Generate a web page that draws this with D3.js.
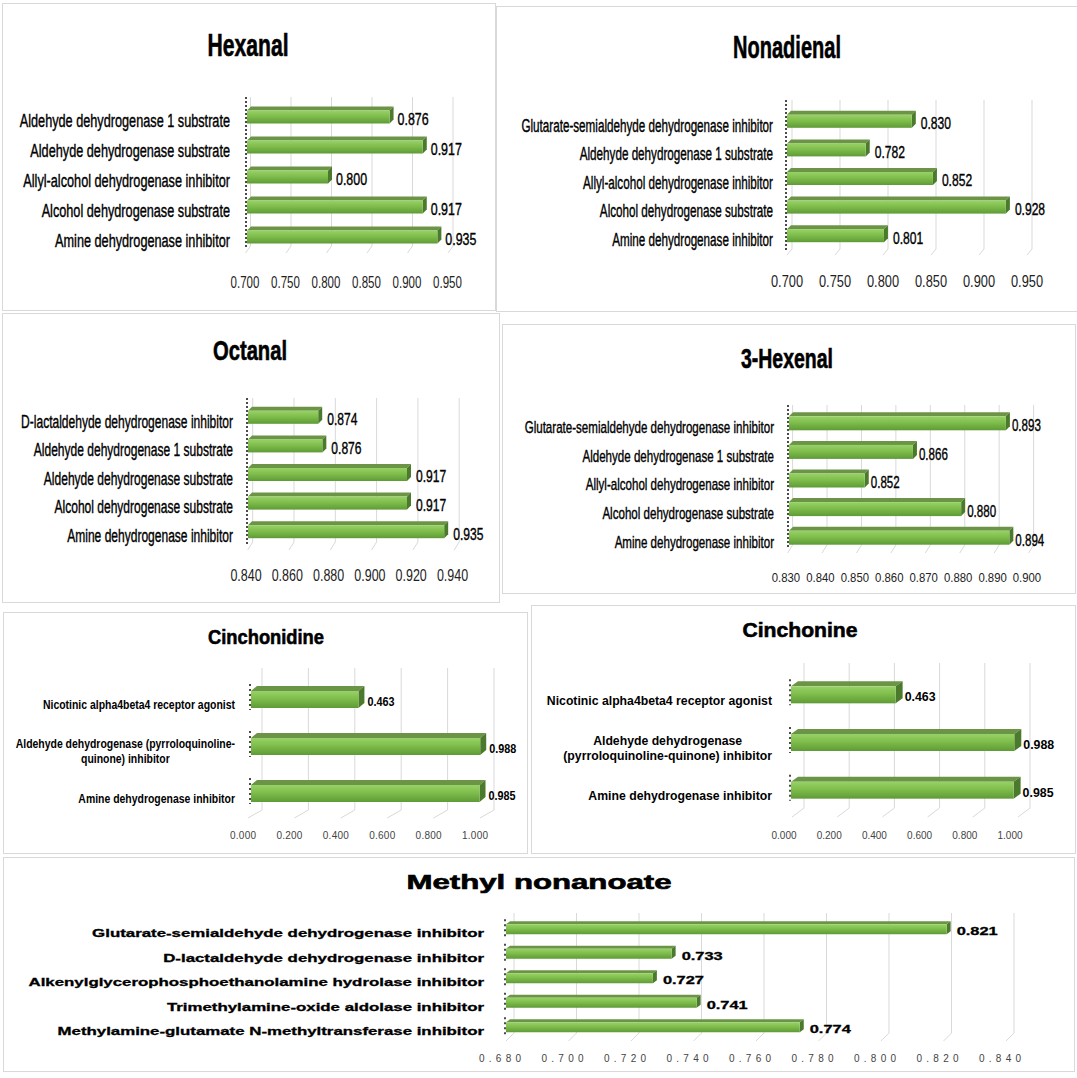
<!DOCTYPE html>
<html>
<head>
<meta charset="utf-8">
<script src="https://cdn.jsdelivr.net/npm/d3@7"></script>
<style>
  body { margin: 0; background: #fff; }
  svg { display: block; }
</style>
</head>
<body>
<svg id="chart"></svg>
<script>
/*global d3*/

// ---- data (top to bottom as shown) ----
var hexanalCats = ["Aldehyde dehydrogenase 1 substrate", "Aldehyde dehydrogenase substrate",
    "Allyl-alcohol dehydrogenase inhibitor", "Alcohol dehydrogenase substrate", "Amine dehydrogenase inhibitor"];
var hexanalVals = [0.876, 0.917, 0.800, 0.917, 0.935];
var hexanalTicks = [0.70, 0.75, 0.80, 0.85, 0.90, 0.95];

var nonadienalCats = ["Glutarate-semialdehyde dehydrogenase inhibitor", "Aldehyde dehydrogenase 1 substrate",
    "Allyl-alcohol dehydrogenase inhibitor", "Alcohol dehydrogenase substrate", "Amine dehydrogenase inhibitor"];
var nonadienalVals = [0.830, 0.782, 0.852, 0.928, 0.801];
var nonadienalTicks = [0.70, 0.75, 0.80, 0.85, 0.90, 0.95];

var octanalCats = ["D-lactaldehyde dehydrogenase inhibitor", "Aldehyde dehydrogenase 1 substrate",
    "Aldehyde dehydrogenase substrate", "Alcohol dehydrogenase substrate", "Amine dehydrogenase inhibitor"];
var octanalVals = [0.874, 0.876, 0.917, 0.917, 0.935];
var octanalTicks = [0.84, 0.86, 0.88, 0.90, 0.92, 0.94];

var hexenalCats = ["Glutarate-semialdehyde dehydrogenase inhibitor", "Aldehyde dehydrogenase 1 substrate",
    "Allyl-alcohol dehydrogenase inhibitor", "Alcohol dehydrogenase substrate", "Amine dehydrogenase inhibitor"];
var hexenalVals = [0.893, 0.866, 0.852, 0.880, 0.894];
var hexenalTicks = [0.83, 0.84, 0.85, 0.86, 0.87, 0.88, 0.89, 0.90];

var cinchonidineCats = ["Nicotinic alpha4beta4 receptor agonist",
    "Aldehyde dehydrogenase (pyrroloquinoline-\nquinone) inhibitor", "Amine dehydrogenase inhibitor"];
var cinchonidineVals = [0.463, 0.988, 0.985];
var cinchonidineTicks = [0, 0.2, 0.4, 0.6, 0.8, 1.0];

var cinchonineCats = ["Nicotinic alpha4beta4 receptor agonist",
    "Aldehyde dehydrogenase\n(pyrroloquinoline-quinone) inhibitor", "Amine dehydrogenase inhibitor"];
var cinchonineVals = [0.463, 0.988, 0.985];
var cinchonineTicks = [0, 0.2, 0.4, 0.6, 0.8, 1.0];

var methylCats = ["Glutarate-semialdehyde dehydrogenase inhibitor", "D-lactaldehyde dehydrogenase inhibitor",
    "Alkenylglycerophosphoethanolamine hydrolase inhibitor", "Trimethylamine-oxide aldolase inhibitor",
    "Methylamine-glutamate N-methyltransferase inhibitor"];
var methylVals = [0.821, 0.733, 0.727, 0.741, 0.774];
var methylTicks = [0.68, 0.70, 0.72, 0.74, 0.76, 0.78, 0.80, 0.82, 0.84];

// ---- layout ----
var panels = [
    {title: "Hexanal", cats: hexanalCats, vals: hexanalVals, ticks: hexanalTicks,
        box: [2, 3, 493, 307], tx: 248, ty: 45, tSize: 31, tW: 81,
        x0: 247, x1: 449.5, yTop: 102, yBot: 252, barH: 13, bdx: 4, bdy: 4,
        gTop: 97, gBot: 246, gdx: 3.5, fdx: 5, fdy: 7,
        catRight: 230, catSize: 18, catK: 0.705, catWeight: "normal", catDy: 4, ink: 0.4,
        valSize: 17, valK: 0.73, valWeight: "normal", valGap: 8, valDy: 2,
        tickY: 282, tickSize: 16, tickK: 0.72, tickDx: -2, tickAdj: "spacingAndGlyphs", dots: "full"},
    {title: "Nonadienal", cats: nonadienalCats, vals: nonadienalVals, ticks: nonadienalTicks,
        box: [496, 6, 584, 305], tx: 787, ty: 47, tSize: 32, tW: 108,
        x0: 787, x1: 1027, yTop: 107, yBot: 250, barH: 13, bdx: 4, bdy: 4,
        gTop: 100, gBot: 249, gdx: 5, fdx: 5, fdy: 6,
        catRight: 773, catSize: 18, catK: 0.648, catWeight: "normal", catDy: 4, ink: 0.4,
        valSize: 17, valK: 0.71, valWeight: "normal", valGap: 9, valDy: 2,
        tickY: 281, tickSize: 16, tickK: 0.8, tickDx: 0, tickAdj: "spacingAndGlyphs", dots: "full"},
    {title: "Octanal", cats: octanalCats, vals: octanalVals, ticks: octanalTicks,
        box: [2, 313, 497, 289], tx: 250, ty: 350, tSize: 28, tW: 74,
        x0: 248, x1: 454.5, yTop: 403, yBot: 546, barH: 13, bdx: 4, bdy: 4,
        gTop: 398, gBot: 542, gdx: 4.7, fdx: 5, fdy: 8,
        catRight: 233, catSize: 18, catK: 0.668, catWeight: "normal", catDy: 4, ink: 0.4,
        valSize: 17, valK: 0.71, valWeight: "normal", valGap: 9, valDy: 2,
        tickY: 575, tickSize: 16, tickK: 0.78, tickDx: -2, tickAdj: "spacingAndGlyphs", dots: "full"},
    {title: "3-Hexenal", cats: hexenalCats, vals: hexenalVals, ticks: hexenalTicks,
        box: [502, 324, 573, 269], tx: 787, ty: 358, tSize: 28, tW: 92,
        x0: 789, x1: 1030, yTop: 409, yBot: 552, barH: 14, bdx: 4, bdy: 4,
        gTop: 405, gBot: 545, gdx: 3.6, fdx: 5, fdy: 8,
        catRight: 774, catSize: 17, catK: 0.68, catWeight: "normal", catDy: 4, ink: 0.4,
        valSize: 17, valK: 0.68, valWeight: "normal", valGap: 6, valDy: 2,
        tickY: 577, tickSize: 13.5, tickK: 0.84, tickDx: -3, tickAdj: "spacingAndGlyphs", dots: "full"},
    {title: "Cinchonidine", cats: cinchonidineCats, vals: cinchonidineVals, ticks: cinchonidineTicks,
        box: [3, 612, 524, 241], tx: 266, ty: 637, tSize: 21, tW: 116,
        x0: 251, x1: 483, yTop: 676, yBot: 817, barH: 17, bdx: 6, bdy: 5,
        gTop: 668, gBot: 810, gdx: 11, fdx: 14, fdy: 8,
        catRight: 235, catSize: 12, catK: 0.87, catWeight: "bold", catDy: 5, ink: 0, lineH: 15, multiDy: 5,
        valSize: 12, valK: 0.9, valWeight: "bold", valGap: 9, valDy: 2,
        tickY: 835, tickSize: 10, tickK: 1.04, tickDx: -8, tickAdj: "spacing", dots: "bars"},
    {title: "Cinchonine", cats: cinchonineCats, vals: cinchonineVals, ticks: cinchonineTicks,
        box: [531, 605, 544, 248], tx: 800, ty: 630, tSize: 21, tW: 115,
        x0: 791, x1: 1017, yTop: 671, yBot: 814, barH: 17, bdx: 7, bdy: 5,
        gTop: 663, gBot: 808, gdx: 13, fdx: 12, fdy: 9,
        catRight: 772, catSize: 12, catK: 1.02, catWeight: "bold", catDy: 6, ink: 0, lineH: 15, multiDy: 6,
        valSize: 13, valK: 0.95, valWeight: "bold", valGap: 9, valDy: 2,
        tickY: 835, tickSize: 10, tickK: 1.0, tickDx: -7, tickAdj: "spacing", dots: "bars"},
    {title: "Methyl nonanoate", cats: methylCats, vals: methylVals, ticks: methylTicks,
        box: [3, 857, 1071, 214], tx: 539, ty: 882, tSize: 20, tW: 265,
        x0: 506, x1: 1006, yTop: 917, yBot: 1039.5, barH: 10, bdx: 4, bdy: 3,
        gTop: 913, gBot: 1033, gdx: 8, fdx: 8, fdy: 8,
        catRight: 484, catSize: 11, catK: 1.53, catWeight: "bold", catDy: 4, ink: 0.3,
        valSize: 11, valK: 1.49, valWeight: "bold", valGap: 10, valDy: 2,
        tickY: 1058, tickSize: 10, tickK: 1.68, tickDx: -6, tickAdj: "spacing", dots: "bars"}
];

var FONT = "'Liberation Sans', Arial, sans-serif";
var fmt = d3.format(".3f");

var svg = d3.select("#chart").attr("width", 1077).attr("height", 1078);

var grad = svg.append("defs").append("linearGradient")
    .attr("id", "barFront").attr("x1", 0).attr("y1", 0).attr("x2", 0).attr("y2", 1);
grad.append("stop").attr("offset", "0%").attr("stop-color", "#97d266");
grad.append("stop").attr("offset", "45%").attr("stop-color", "#7fbd4c");
grad.append("stop").attr("offset", "100%").attr("stop-color", "#5f9b36");

// squeeze/stretch text horizontally like the original pasted images
function fit(sel, k, adjust) {
    sel.each(function () {
        var w = this.getComputedTextLength();
        d3.select(this)
            .attr("textLength", w * k)
            .attr("lengthAdjust", adjust || "spacingAndGlyphs");
    });
}

function drawPanel(p) {
    var g = svg.append("g");

    g.append("rect")
        .attr("x", p.box[0] + 0.5).attr("y", p.box[1] + 0.5)
        .attr("width", p.box[2]).attr("height", p.box[3])
        .attr("fill", "#fff").attr("stroke", "#d9d9d9");

    var x = d3.scaleLinear()
        .domain([p.ticks[0], p.ticks[p.ticks.length - 1]])
        .range([p.x0, p.x1]);
    var y = d3.scaleBand().domain(p.cats).range([p.yTop, p.yBot]);
    function cy(d) { return y(d) + y.bandwidth() / 2; }

    // back wall gridlines + floor
    g.selectAll(".grid").data(p.ticks).enter().append("polyline")
        .attr("points", function (t) {
            var bx = x(t) + p.gdx;
            return [bx, p.gTop, bx, p.gBot, bx - p.fdx, p.gBot + p.fdy].join(",");
        })
        .attr("fill", "none").attr("stroke", "#d9d9d9").attr("stroke-width", 1);

    // tick labels
    g.selectAll(".tick").data(p.ticks).enter().append("text")
        .attr("x", function (t) { return x(t) + p.tickDx; })
        .attr("y", p.tickY).attr("dy", "0.35em")
        .attr("text-anchor", "middle")
        .style("font-family", FONT).style("font-size", p.tickSize + "px")
        .attr("fill", p.tickAdj === "spacing" ? "#444" : "#222")
        .text(fmt)
        .call(fit, p.tickK, p.tickAdj);

    var rows = p.cats.map(function (c, i) { return {cat: c, v: p.vals[i]}; });

    // dotted left axis
    if (p.dots === "full") {
        g.append("line")
            .attr("x1", p.x0 - 1).attr("x2", p.x0 - 1)
            .attr("y1", p.gTop).attr("y2", p.gBot + 3)
            .attr("stroke", "#111").attr("stroke-width", 1.5).attr("stroke-dasharray", "2,2");
    } else {
        g.selectAll(".dots").data(rows).enter().append("line")
            .attr("x1", p.x0 - 1).attr("x2", p.x0 - 1)
            .attr("y1", function (d) { return cy(d.cat) - p.barH / 2 - p.bdy - 2; })
            .attr("y2", function (d) { return cy(d.cat) + p.barH / 2 + 2; })
            .attr("stroke", "#111").attr("stroke-width", 1.5).attr("stroke-dasharray", "2,3");
    }

    // 3D bars
    var bar = g.selectAll(".bar").data(rows).enter().append("g");
    bar.append("polygon")
        .attr("points", function (d) {
            var yt = cy(d.cat) - p.barH / 2, xv = x(d.v);
            return [p.x0, yt, p.x0 + p.bdx, yt - p.bdy, xv + p.bdx, yt - p.bdy, xv, yt].join(",");
        })
        .attr("fill", "#6c9447");
    bar.append("polygon")
        .attr("points", function (d) {
            var yt = cy(d.cat) - p.barH / 2, yb = yt + p.barH, xv = x(d.v);
            return [xv, yt, xv + p.bdx, yt - p.bdy, xv + p.bdx, yb - p.bdy, xv, yb].join(",");
        })
        .attr("fill", "#4c7a2c");
    bar.append("rect")
        .attr("x", p.x0)
        .attr("y", function (d) { return cy(d.cat) - p.barH / 2; })
        .attr("width", function (d) { return x(d.v) - p.x0; })
        .attr("height", p.barH)
        .attr("fill", "url(#barFront)");

    // value labels
    bar.append("text")
        .attr("x", function (d) { return x(d.v) + p.valGap; })
        .attr("y", function (d) { return cy(d.cat) + p.valDy; })
        .attr("dy", "0.35em")
        .style("font-family", FONT).style("font-size", p.valSize + "px")
        .style("font-weight", p.valWeight)
        .attr("fill", "#000")
        .attr("stroke", "#000").attr("stroke-width", p.ink)
        .text(function (d) { return fmt(d.v); })
        .call(fit, p.valK);

    // category labels (may wrap over two lines)
    rows.forEach(function (d) {
        var lines = d.cat.split("\n");
        var n = lines.length;
        var texts = lines.map(function (line, i) {
            var off = n > 1 ? (i - (n - 1) / 2) * p.lineH + p.multiDy - p.catDy : 0;
            return g.append("text")
                .attr("x", p.catRight)
                .attr("y", cy(d.cat) + p.catDy + off)
                .attr("dy", "0.35em")
                .attr("text-anchor", "end")
                .style("font-family", FONT).style("font-size", p.catSize + "px")
                .style("font-weight", p.catWeight)
                .attr("fill", "#000")
                .attr("stroke", "#000").attr("stroke-width", p.ink)
                .text(line)
                .call(fit, p.catK);
        });
        if (n > 1) {
            var maxW = d3.max(texts, function (t) { return +t.attr("textLength"); });
            texts.forEach(function (t) {
                t.attr("text-anchor", "middle").attr("x", p.catRight - maxW / 2);
            });
        }
    });

    // title
    g.append("text")
        .attr("x", p.tx).attr("y", p.ty).attr("dy", "0.35em")
        .attr("text-anchor", "middle")
        .style("font-family", FONT).style("font-size", p.tSize + "px")
        .style("font-weight", "bold")
        .attr("fill", "#000")
        .attr("stroke", "#000").attr("stroke-width", 0.6)
        .text(p.title)
        .attr("textLength", p.tW).attr("lengthAdjust", "spacingAndGlyphs");
}

panels.forEach(drawPanel);
</script>
</body>
</html>
